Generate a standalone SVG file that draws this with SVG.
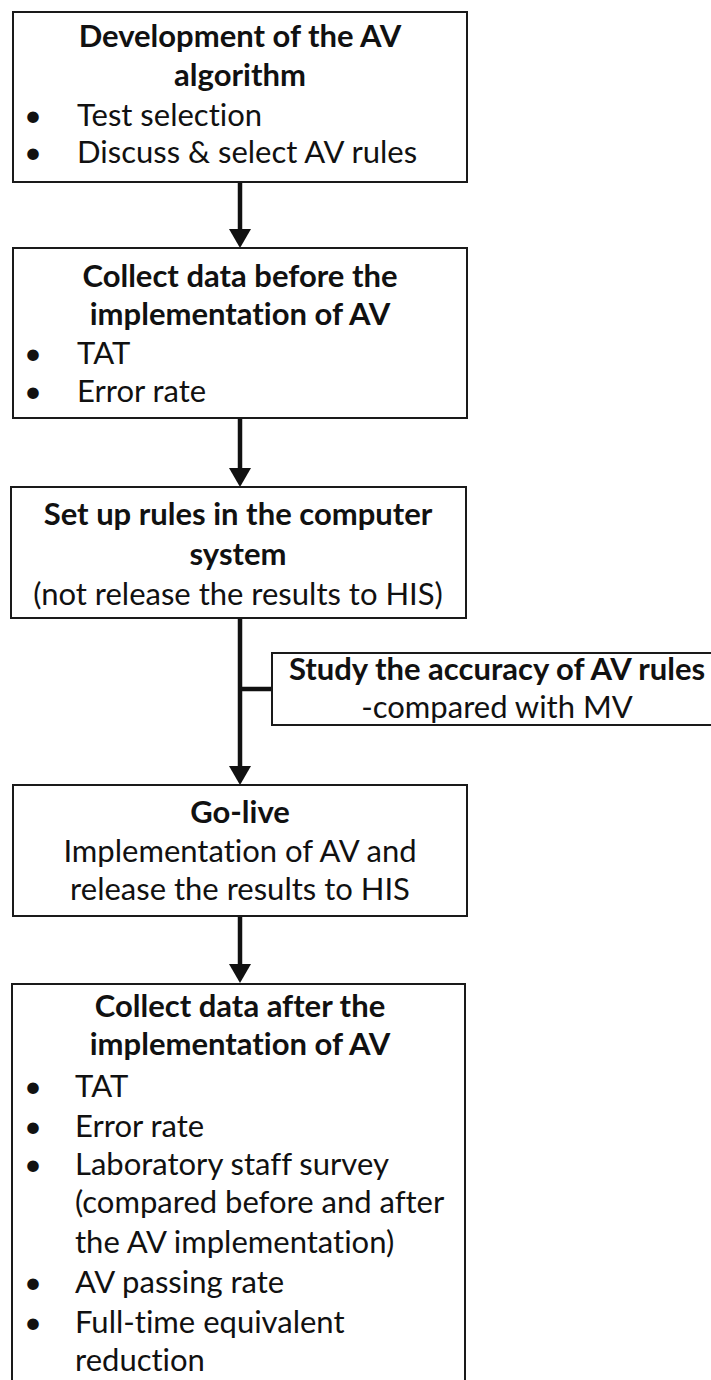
<svg xmlns="http://www.w3.org/2000/svg" width="711" height="1380" viewBox="0 0 711 1380">
<style>
  .box { fill: #ffffff; stroke: #1a1a1a; stroke-width: 2; }
  .t { font-family: Lato, "Open Sans", "Liberation Sans", sans-serif; font-size: 31px; fill: #111111; font-variant-ligatures: none; font-feature-settings: "liga" 0, "clig" 0; }
  .b { font-weight: bold; }
  .c { text-anchor: middle; }
  .conn { stroke: #111111; stroke-width: 4.5; fill: none; }
</style>
<defs>
  <marker id="ah" markerUnits="userSpaceOnUse" markerWidth="20" markerHeight="22" refX="8" refY="11" orient="auto">
    <path d="M0,0 L19,11 L0,22 z" fill="#111111"/>
  </marker>
</defs>
<rect width="711" height="1380" fill="#ffffff"/>

<g id="connectors">
  <line class="conn" x1="240" y1="182" x2="240" y2="237" marker-end="url(#ah)"/>
  <line class="conn" x1="240" y1="418" x2="240" y2="476" marker-end="url(#ah)"/>
  <line class="conn" x1="240" y1="618" x2="240" y2="774" marker-end="url(#ah)"/>
  <line class="conn" x1="240" y1="689" x2="273" y2="689"/>
  <line class="conn" x1="240" y1="916" x2="240" y2="972" marker-end="url(#ah)"/>
</g>

<g id="node1">
  <rect class="box" x="13" y="12" width="454" height="170"/>
  <text class="t b c" x="240" y="47">Development of the AV</text>
  <text class="t b c" x="240" y="86">algorithm</text>
  <text class="t" x="24" y="126">•</text>
  <text class="t" x="77" y="126">Test selection</text>
  <text class="t" x="24" y="163">•</text>
  <text class="t" x="77" y="163">Discuss &amp; select AV rules</text>
</g>

<g id="node2">
  <rect class="box" x="13" y="248" width="454" height="170"/>
  <text class="t b c" x="240" y="287">Collect data before the</text>
  <text class="t b c" x="240" y="325">implementation of AV</text>
  <text class="t" x="24" y="364">•</text>
  <text class="t" x="77" y="364">TAT</text>
  <text class="t" x="24" y="402">•</text>
  <text class="t" x="77" y="402">Error rate</text>
</g>

<g id="node3">
  <rect class="box" x="11" y="487" width="455" height="131"/>
  <text class="t b c" x="238" y="525">Set up rules in the computer</text>
  <text class="t b c" x="238" y="565">system</text>
  <text class="t c" x="238" y="605">(not release the results to HIS)</text>
</g>

<g id="node4">
  <rect class="box" x="272" y="653" width="460" height="72"/>
  <text class="t b c" x="497" y="680">Study the accuracy of AV rules</text>
  <text class="t c" x="497" y="718">-compared with MV</text>
</g>

<g id="node5">
  <rect class="box" x="13" y="785" width="454" height="131"/>
  <text class="t b c" x="240" y="823">Go-live</text>
  <text class="t c" x="240" y="862">Implementation of AV and</text>
  <text class="t c" x="240" y="900">release the results to HIS</text>
</g>

<g id="node6">
  <rect class="box" x="12" y="984" width="453" height="420"/>
  <text class="t b c" x="240" y="1017">Collect data after the</text>
  <text class="t b c" x="240" y="1055">implementation of AV</text>
  <text class="t" x="24" y="1097">•</text>
  <text class="t" x="75" y="1097">TAT</text>
  <text class="t" x="24" y="1137">•</text>
  <text class="t" x="75" y="1137">Error rate</text>
  <text class="t" x="24" y="1175">•</text>
  <text class="t" x="75" y="1175">Laboratory staff survey</text>
  <text class="t" x="75" y="1213">(compared before and after</text>
  <text class="t" x="75" y="1253">the AV implementation)</text>
  <text class="t" x="24" y="1293">•</text>
  <text class="t" x="75" y="1293">AV passing rate</text>
  <text class="t" x="24" y="1333">•</text>
  <text class="t" x="75" y="1333">Full-time equivalent</text>
  <text class="t" x="75" y="1371">reduction</text>
</g>
</svg>
